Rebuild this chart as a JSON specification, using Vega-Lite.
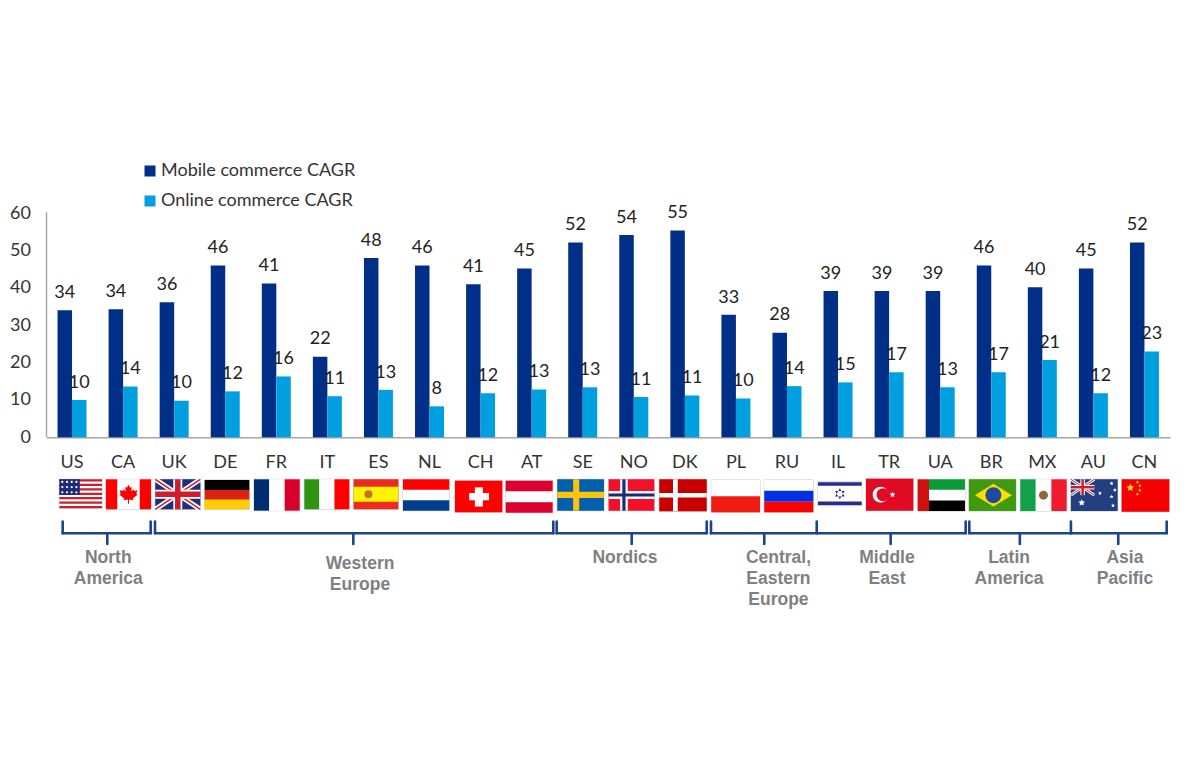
{"$schema":"https://vega.github.io/schema/vega-lite/v6.json","width":1123.5,"height":764,"autosize":"none","padding":{"left":46.5,"right":15,"top":0,"bottom":0},"background":"white","config":{"view":{"stroke":null},"font":"Lato"},
"datasets":{
"bars":[
{"country":"US","series":"Mobile commerce CAGR","value":34},{"country":"US","series":"Online commerce CAGR","value":10},
{"country":"CA","series":"Mobile commerce CAGR","value":34.3},{"country":"CA","series":"Online commerce CAGR","value":13.6},
{"country":"UK","series":"Mobile commerce CAGR","value":36.2},{"country":"UK","series":"Online commerce CAGR","value":9.8},
{"country":"DE","series":"Mobile commerce CAGR","value":46},{"country":"DE","series":"Online commerce CAGR","value":12.3},
{"country":"FR","series":"Mobile commerce CAGR","value":41.2},{"country":"FR","series":"Online commerce CAGR","value":16.3},
{"country":"IT","series":"Mobile commerce CAGR","value":21.6},{"country":"IT","series":"Online commerce CAGR","value":11},
{"country":"ES","series":"Mobile commerce CAGR","value":48},{"country":"ES","series":"Online commerce CAGR","value":12.7},
{"country":"NL","series":"Mobile commerce CAGR","value":46},{"country":"NL","series":"Online commerce CAGR","value":8.3},
{"country":"CH","series":"Mobile commerce CAGR","value":41},{"country":"CH","series":"Online commerce CAGR","value":11.8},
{"country":"AT","series":"Mobile commerce CAGR","value":45.2},{"country":"AT","series":"Online commerce CAGR","value":12.8},
{"country":"SE","series":"Mobile commerce CAGR","value":52.2},{"country":"SE","series":"Online commerce CAGR","value":13.4},
{"country":"NO","series":"Mobile commerce CAGR","value":54.2},{"country":"NO","series":"Online commerce CAGR","value":10.8},
{"country":"DK","series":"Mobile commerce CAGR","value":55.4},{"country":"DK","series":"Online commerce CAGR","value":11.2},
{"country":"PL","series":"Mobile commerce CAGR","value":32.8},{"country":"PL","series":"Online commerce CAGR","value":10.4},
{"country":"RU","series":"Mobile commerce CAGR","value":28},{"country":"RU","series":"Online commerce CAGR","value":13.7},
{"country":"IL","series":"Mobile commerce CAGR","value":39.2},{"country":"IL","series":"Online commerce CAGR","value":14.7},
{"country":"TR","series":"Mobile commerce CAGR","value":39.2},{"country":"TR","series":"Online commerce CAGR","value":17.4},
{"country":"UA","series":"Mobile commerce CAGR","value":39.2},{"country":"UA","series":"Online commerce CAGR","value":13.4},
{"country":"BR","series":"Mobile commerce CAGR","value":46},{"country":"BR","series":"Online commerce CAGR","value":17.4},
{"country":"MX","series":"Mobile commerce CAGR","value":40.2},{"country":"MX","series":"Online commerce CAGR","value":20.7},
{"country":"AU","series":"Mobile commerce CAGR","value":45.2},{"country":"AU","series":"Online commerce CAGR","value":11.8},
{"country":"CN","series":"Mobile commerce CAGR","value":52.2},{"country":"CN","series":"Online commerce CAGR","value":23}],
"boxes":[
{"f":"US","l":0.251,"r":1.087,"t":-11.25,"b":-19.02},{"f":"CA","l":1.165,"r":2.046,"t":-11.25,"b":-19.29},{"f":"UK","l":2.13,"r":3.012,"t":-11.25,"b":-19.29},{"f":"DE","l":3.098,"r":3.971,"t":-11.44,"b":-19.29},{"f":"FR","l":4.063,"r":4.958,"t":-11.25,"b":-19.66},{"f":"IT","l":5.048,"r":5.929,"t":-11.25,"b":-19.29},{"f":"ES","l":6.015,"r":6.889,"t":-11.25,"b":-19.29},{"f":"NL","l":6.981,"r":7.887,"t":-11.25,"b":-19.66},{"f":"CH","l":7.999,"r":8.925,"t":-11.63,"b":-20.09},{"f":"AT","l":8.992,"r":9.912,"t":-11.63,"b":-20.2},{"f":"SE","l":10.002,"r":10.916,"t":-11.25,"b":-19.66},{"f":"NO","l":11.008,"r":11.901,"t":-11.25,"b":-19.66},{"f":"DK","l":11.999,"r":12.928,"t":-11.25,"b":-19.82},{"f":"PL","l":13.017,"r":13.971,"t":-11.44,"b":-20.09},{"f":"RU","l":14.055,"r":15.015,"t":-11.44,"b":-20.09},{"f":"IL","l":15.107,"r":15.963,"t":-11.89,"b":-18.32},{"f":"TR","l":16.047,"r":16.973,"t":-11.09,"b":-19.66},{"f":"UA","l":17.059,"r":17.985,"t":-11.25,"b":-19.74},{"f":"BR","l":18.063,"r":18.984,"t":-11.25,"b":-19.74},{"f":"MX","l":19.068,"r":19.977,"t":-11.25,"b":-19.74},{"f":"AU","l":20.06,"r":20.975,"t":-11.25,"b":-19.74},{"f":"CN","l":21.054,"r":21.986,"t":-11.25,"b":-19.93}],
"parts":[
{"k":"r","f":"US","u0":0,"u1":1,"v0":0,"v1":1,"tone":"white"},
{"k":"r","f":"US","u0":0,"u1":1,"v0":0,"v1":0.077,"tone":"usRed"},{"k":"r","f":"US","u0":0,"u1":1,"v0":0.154,"v1":0.231,"tone":"usRed"},{"k":"r","f":"US","u0":0,"u1":1,"v0":0.308,"v1":0.385,"tone":"usRed"},{"k":"r","f":"US","u0":0,"u1":1,"v0":0.462,"v1":0.538,"tone":"usRed"},{"k":"r","f":"US","u0":0,"u1":1,"v0":0.615,"v1":0.692,"tone":"usRed"},{"k":"r","f":"US","u0":0,"u1":1,"v0":0.769,"v1":0.846,"tone":"usRed"},{"k":"r","f":"US","u0":0,"u1":1,"v0":0.923,"v1":1,"tone":"usRed"},
{"k":"r","f":"US","u0":0,"u1":0.48,"v0":0,"v1":0.54,"tone":"usNavy"},
{"k":"r","f":"CA","u0":0,"u1":1,"v0":0,"v1":1,"tone":"white"},{"k":"r","f":"CA","u0":0,"u1":0.25,"v0":0,"v1":1,"tone":"red"},{"k":"r","f":"CA","u0":0.75,"u1":1,"v0":0,"v1":1,"tone":"red"},
{"k":"r","f":"UK","u0":0,"u1":1,"v0":0,"v1":1,"tone":"ukNavy"},
{"k":"r","f":"DE","u0":0,"u1":1,"v0":0,"v1":0.34,"tone":"black"},{"k":"r","f":"DE","u0":0,"u1":1,"v0":0.34,"v1":0.67,"tone":"deRed"},{"k":"r","f":"DE","u0":0,"u1":1,"v0":0.67,"v1":1,"tone":"deGold"},
{"k":"r","f":"FR","u0":0,"u1":1,"v0":0,"v1":1,"tone":"white"},{"k":"r","f":"FR","u0":0,"u1":0.33,"v0":0,"v1":1,"tone":"frNavy"},{"k":"r","f":"FR","u0":0.67,"u1":1,"v0":0,"v1":1,"tone":"frRed"},
{"k":"r","f":"IT","u0":0,"u1":1,"v0":0,"v1":1,"tone":"white"},{"k":"r","f":"IT","u0":0,"u1":0.33,"v0":0,"v1":1,"tone":"itGreen"},{"k":"r","f":"IT","u0":0.67,"u1":1,"v0":0,"v1":1,"tone":"red"},
{"k":"r","f":"ES","u0":0,"u1":1,"v0":0,"v1":1,"tone":"esRed"},{"k":"r","f":"ES","u0":0,"u1":1,"v0":0.25,"v1":0.75,"tone":"esYellow"},
{"k":"r","f":"NL","u0":0,"u1":1,"v0":0,"v1":1,"tone":"white"},{"k":"r","f":"NL","u0":0,"u1":1,"v0":0,"v1":0.33,"tone":"red"},{"k":"r","f":"NL","u0":0,"u1":1,"v0":0.67,"v1":1,"tone":"nlBlue"},
{"k":"r","f":"CH","u0":0,"u1":1,"v0":0,"v1":1,"tone":"red"},{"k":"r","f":"CH","u0":0.3,"u1":0.72,"v0":0.39,"v1":0.62,"tone":"white"},{"k":"r","f":"CH","u0":0.42,"u1":0.59,"v0":0.21,"v1":0.82,"tone":"white"},
{"k":"r","f":"AT","u0":0,"u1":1,"v0":0,"v1":1,"tone":"white"},{"k":"r","f":"AT","u0":0,"u1":1,"v0":0,"v1":0.33,"tone":"atRed"},{"k":"r","f":"AT","u0":0,"u1":1,"v0":0.67,"v1":1,"tone":"atRed"},
{"k":"r","f":"SE","u0":0,"u1":1,"v0":0,"v1":1,"tone":"seBlue"},{"k":"r","f":"SE","u0":0.34,"u1":0.47,"v0":0,"v1":1,"tone":"seYellow"},{"k":"r","f":"SE","u0":0,"u1":1,"v0":0.4,"v1":0.6,"tone":"seYellow"},
{"k":"r","f":"NO","u0":0,"u1":1,"v0":0,"v1":1,"tone":"noRed"},{"k":"r","f":"NO","u0":0.25,"u1":0.42,"v0":0,"v1":1,"tone":"white"},{"k":"r","f":"NO","u0":0,"u1":1,"v0":0.37,"v1":0.63,"tone":"white"},{"k":"r","f":"NO","u0":0.3,"u1":0.37,"v0":0,"v1":1,"tone":"noNavy"},{"k":"r","f":"NO","u0":0,"u1":1,"v0":0.45,"v1":0.55,"tone":"noNavy"},
{"k":"r","f":"DK","u0":0,"u1":1,"v0":0,"v1":1,"tone":"dkRed"},{"k":"r","f":"DK","u0":0.29,"u1":0.39,"v0":0,"v1":1,"tone":"white"},{"k":"r","f":"DK","u0":0,"u1":1,"v0":0.43,"v1":0.57,"tone":"white"},
{"k":"r","f":"PL","u0":0,"u1":1,"v0":0,"v1":0.5,"tone":"white"},{"k":"r","f":"PL","u0":0,"u1":1,"v0":0.5,"v1":1,"tone":"plRed"},
{"k":"r","f":"RU","u0":0,"u1":1,"v0":0,"v1":0.33,"tone":"white"},{"k":"r","f":"RU","u0":0,"u1":1,"v0":0.33,"v1":0.67,"tone":"ruBlue"},{"k":"r","f":"RU","u0":0,"u1":1,"v0":0.67,"v1":1,"tone":"red"},
{"k":"r","f":"IL","u0":0,"u1":1,"v0":0,"v1":1,"tone":"white"},{"k":"r","f":"IL","u0":0,"u1":1,"v0":0.02,"v1":0.17,"tone":"ilNavy"},{"k":"r","f":"IL","u0":0,"u1":1,"v0":0.83,"v1":0.98,"tone":"ilNavy"},
{"k":"r","f":"TR","u0":0,"u1":1,"v0":0,"v1":1,"tone":"trRed"},
{"k":"r","f":"UA","u0":0,"u1":1,"v0":0,"v1":1,"tone":"white"},{"k":"r","f":"UA","u0":0.24,"u1":1,"v0":0,"v1":0.33,"tone":"aeGreen"},{"k":"r","f":"UA","u0":0.24,"u1":1,"v0":0.67,"v1":1,"tone":"black"},{"k":"r","f":"UA","u0":0,"u1":0.24,"v0":0,"v1":1,"tone":"aeRed"},
{"k":"r","f":"BR","u0":0,"u1":1,"v0":0,"v1":1,"tone":"brGreen"},
{"k":"r","f":"MX","u0":0,"u1":1,"v0":0,"v1":1,"tone":"white"},{"k":"r","f":"MX","u0":0,"u1":0.33,"v0":0,"v1":1,"tone":"mxGreen"},{"k":"r","f":"MX","u0":0.67,"u1":1,"v0":0,"v1":1,"tone":"mxRed"},
{"k":"r","f":"AU","u0":0,"u1":1,"v0":0,"v1":1,"tone":"auNavy"},
{"k":"r","f":"CN","u0":0,"u1":1,"v0":0,"v1":1,"tone":"cnRed"},
{"k":"l","f":"UK","u0":0,"v0":0,"u1":1,"v1":1,"tone":"white","w":5},{"k":"l","f":"UK","u0":0,"v0":1,"u1":1,"v1":0,"tone":"white","w":5},{"k":"l","f":"UK","u0":0,"v0":0,"u1":1,"v1":1,"tone":"ukRed","w":1.5},{"k":"l","f":"UK","u0":0,"v0":1,"u1":1,"v1":0,"tone":"ukRed","w":1.5},{"k":"l","f":"UK","u0":0,"v0":0.5,"u1":1,"v1":0.5,"tone":"white","w":9},{"k":"l","f":"UK","u0":0.5,"v0":0,"u1":0.5,"v1":1,"tone":"white","w":9},{"k":"l","f":"UK","u0":0,"v0":0.5,"u1":1,"v1":0.5,"tone":"ukRed","w":5.5},{"k":"l","f":"UK","u0":0.5,"v0":0,"u1":0.5,"v1":1,"tone":"ukRed","w":5.5},
{"k":"l","f":"AU","u0":0,"v0":0,"u1":0.5,"v1":0.5,"tone":"white","w":3},{"k":"l","f":"AU","u0":0,"v0":0.5,"u1":0.5,"v1":0,"tone":"white","w":3},{"k":"l","f":"AU","u0":0,"v0":0,"u1":0.5,"v1":0.5,"tone":"ukRed","w":1},{"k":"l","f":"AU","u0":0,"v0":0.5,"u1":0.5,"v1":0,"tone":"ukRed","w":1},{"k":"l","f":"AU","u0":0,"v0":0.25,"u1":0.5,"v1":0.25,"tone":"white","w":4.5},{"k":"l","f":"AU","u0":0.25,"v0":0,"u1":0.25,"v1":0.5,"tone":"white","w":4.5},{"k":"l","f":"AU","u0":0,"v0":0.25,"u1":0.5,"v1":0.25,"tone":"ukRed","w":2.5},{"k":"l","f":"AU","u0":0.25,"v0":0,"u1":0.25,"v1":0.5,"tone":"ukRed","w":2.5},
{"k":"p","f":"US","u0":0.07,"v0":0.09,"s":"circle","z":5,"tone":"white"},{"k":"p","f":"US","u0":0.18,"v0":0.09,"s":"circle","z":5,"tone":"white"},{"k":"p","f":"US","u0":0.29,"v0":0.09,"s":"circle","z":5,"tone":"white"},{"k":"p","f":"US","u0":0.4,"v0":0.09,"s":"circle","z":5,"tone":"white"},{"k":"p","f":"US","u0":0.07,"v0":0.27,"s":"circle","z":5,"tone":"white"},{"k":"p","f":"US","u0":0.18,"v0":0.27,"s":"circle","z":5,"tone":"white"},{"k":"p","f":"US","u0":0.29,"v0":0.27,"s":"circle","z":5,"tone":"white"},{"k":"p","f":"US","u0":0.4,"v0":0.27,"s":"circle","z":5,"tone":"white"},{"k":"p","f":"US","u0":0.07,"v0":0.45,"s":"circle","z":5,"tone":"white"},{"k":"p","f":"US","u0":0.18,"v0":0.45,"s":"circle","z":5,"tone":"white"},{"k":"p","f":"US","u0":0.29,"v0":0.45,"s":"circle","z":5,"tone":"white"},{"k":"p","f":"US","u0":0.4,"v0":0.45,"s":"circle","z":5,"tone":"white"},
{"k":"p","f":"CA","u0":0.5,"v0":0.5,"s":"leaf","z":361,"tone":"red"},
{"k":"p","f":"ES","u0":0.33,"v0":0.5,"s":"circle","z":64,"tone":"esEmblem"},
{"k":"p","f":"IL","u0":0.5,"v0":0.5,"s":"david","z":121,"tone":"ilNavy"},
{"k":"p","f":"TR","u0":0.31,"v0":0.5,"s":"circle","z":256,"tone":"white"},{"k":"p","f":"TR","u0":0.36,"v0":0.5,"s":"circle","z":169,"tone":"trRed"},{"k":"p","f":"TR","u0":0.56,"v0":0.5,"s":"star","z":36,"tone":"white"},
{"k":"p","f":"BR","u0":0.52,"v0":0.5,"s":"wide","z":1369,"tone":"brYellow"},{"k":"p","f":"BR","u0":0.52,"v0":0.5,"s":"circle","z":256,"tone":"brBlue"},
{"k":"p","f":"MX","u0":0.5,"v0":0.5,"s":"circle","z":81,"tone":"mxEmblem"},
{"k":"p","f":"AU","u0":0.23,"v0":0.74,"s":"star","z":49,"tone":"white"},{"k":"p","f":"AU","u0":0.62,"v0":0.44,"s":"star","z":16,"tone":"white"},{"k":"p","f":"AU","u0":0.87,"v0":0.55,"s":"star","z":16,"tone":"white"},{"k":"p","f":"AU","u0":0.94,"v0":0.34,"s":"star","z":16,"tone":"white"},{"k":"p","f":"AU","u0":0.87,"v0":0.13,"s":"star","z":16,"tone":"white"},{"k":"p","f":"AU","u0":0.9,"v0":0.83,"s":"star","z":16,"tone":"white"},
{"k":"p","f":"CN","u0":0.18,"v0":0.26,"s":"star","z":64,"tone":"cnYellow"},{"k":"p","f":"CN","u0":0.33,"v0":0.09,"s":"star","z":12,"tone":"cnYellow"},{"k":"p","f":"CN","u0":0.38,"v0":0.2,"s":"star","z":12,"tone":"cnYellow"},{"k":"p","f":"CN","u0":0.38,"v0":0.34,"s":"star","z":12,"tone":"cnYellow"},{"k":"p","f":"CN","u0":0.33,"v0":0.46,"s":"star","z":12,"tone":"cnYellow"}],
"brackets":[
{"s0":0.317,"s1":2.04,"y0":-25.72,"y1":-25.72},{"s0":0.317,"s1":0.317,"y0":-22.6,"y1":-25.72},{"s0":2.04,"s1":2.04,"y0":-22.6,"y1":-25.72},{"s0":1.19,"s1":1.19,"y0":-25.72,"y1":-28.58},
{"s0":2.125,"s1":9.924,"y0":-25.72,"y1":-25.72},{"s0":2.125,"s1":2.125,"y0":-22.6,"y1":-25.72},{"s0":9.924,"s1":9.924,"y0":-22.6,"y1":-25.72},{"s0":6.008,"s1":6.008,"y0":-25.72,"y1":-28.58},
{"s0":9.99,"s1":12.928,"y0":-25.72,"y1":-25.72},{"s0":9.99,"s1":9.99,"y0":-22.6,"y1":-25.72},{"s0":12.928,"s1":12.928,"y0":-22.6,"y1":-25.72},{"s0":11.459,"s1":11.459,"y0":-25.72,"y1":-28.58},
{"s0":13.012,"s1":15.082,"y0":-25.72,"y1":-25.72},{"s0":13.012,"s1":13.012,"y0":-22.6,"y1":-25.72},{"s0":15.082,"s1":15.082,"y0":-22.6,"y1":-25.72},{"s0":14.055,"s1":14.055,"y0":-25.72,"y1":-28.58},
{"s0":15.082,"s1":17.999,"y0":-25.72,"y1":-25.72},{"s0":17.999,"s1":17.999,"y0":-22.6,"y1":-25.72},{"s0":16.53,"s1":16.53,"y0":-25.72,"y1":-28.58},
{"s0":18.07,"s1":20.06,"y0":-25.72,"y1":-25.72},{"s0":18.07,"s1":18.07,"y0":-22.6,"y1":-25.72},{"s0":20.06,"s1":20.06,"y0":-22.6,"y1":-25.72},{"s0":19.06,"s1":19.06,"y0":-25.72,"y1":-28.58},
{"s0":20.06,"s1":21.935,"y0":-25.72,"y1":-25.72},{"s0":21.935,"s1":21.935,"y0":-22.6,"y1":-25.72},{"s0":20.987,"s1":20.987,"y0":-25.72,"y1":-28.58}],
"regions":[
{"name":"North|America","s":1.21,"y":-33.67},{"name":"Western|Europe","s":6.139,"y":-35.28},{"name":"Nordics","s":11.328,"y":-33.67},{"name":"Central,|Eastern|Europe","s":14.333,"y":-33.67},{"name":"Middle|East","s":16.458,"y":-33.67},{"name":"Latin|America","s":18.848,"y":-33.67},{"name":"Asia|Pacific","s":21.118,"y":-33.67}],
"yaxis":[{"s":0,"y0":0,"y1":60.3}]
},
"layer":[
{"data":{"name":"bars"},
"encoding":{"x":{"field":"country","type":"nominal","sort":null,"scale":{"paddingInner":0.432,"paddingOuter":0.216},"axis":{"title":null,"labelAngle":0,"labelFontSize":18,"labelColor":"#333333","labelPadding":16,"ticks":false,"domainColor":"#A6A6A6","domainWidth":1.5,"offset":-326.7,"grid":false}},
"xOffset":{"field":"series","type":"nominal","sort":null},
"y":{"field":"value","type":"quantitative","scale":{"domain":[-87.52,117.14],"nice":false,"zero":false},"axis":{"title":null,"values":[0,10,20,30,40,50,60],"grid":false,"domain":false,"ticks":false,"labelFontSize":18,"labelColor":"#333333","labelPadding":16}}},
"layer":[
{"mark":{"type":"bar"},"encoding":{"color":{"field":"series","type":"nominal","scale":{"domain":["Mobile commerce CAGR","Online commerce CAGR"],"range":["#002F87","#009FE0"]},"legend":{"title":null,"orient":"none","legendX":94.5,"legendY":162,"symbolType":"square","symbolSize":121,"symbolStrokeWidth":0,"labelFontSize":18,"labelColor":"#333333","labelLimit":300,"rowPadding":12,"labelOffset":2,"symbolOpacity":1}}}},
{"mark":{"type":"text","baseline":"alphabetic","dy":-12.3,"fontSize":18,"color":"#222222"},"encoding":{"text":{"field":"value","type":"quantitative","format":".0f"}}}
]},
{"data":{"name":"boxes"},"mark":{"type":"rect","fill":"white","stroke":"#C8C8C8","strokeWidth":1},"encoding":{"x":{"field":"l","type":"quantitative","scale":{"domain":[0,22],"nice":false,"zero":false},"axis":null},"x2":{"field":"r"},"y":{"field":"t","type":"quantitative","scale":{"domain":[-87.52,117.14],"nice":false,"zero":false}},"y2":{"field":"b"}}},
{"data":{"name":"parts"},
"transform":[
{"lookup":"f","from":{"data":{"name":"boxes"},"key":"f","fields":["l","r","t","b"]}},
{"calculate":"datum.l+datum.u0*(datum.r-datum.l)","as":"px0"},
{"calculate":"datum.l+datum.u1*(datum.r-datum.l)","as":"px1"},
{"calculate":"datum.t+datum.v0*(datum.b-datum.t)","as":"py0"},
{"calculate":"datum.t+datum.v1*(datum.b-datum.t)","as":"py1"}],
"encoding":{
"x":{"field":"px0","type":"quantitative","scale":{"domain":[0,22],"nice":false,"zero":false},"axis":null},
"y":{"field":"py0","type":"quantitative","scale":{"domain":[-87.52,117.14],"nice":false,"zero":false}},
"color":{"field":"tone","type":"nominal","legend":null,"scale":{"domain":["white","black","red","usRed","usNavy","ukNavy","ukRed","deRed","deGold","frNavy","frRed","itGreen","esRed","esYellow","esEmblem","nlBlue","atRed","seBlue","seYellow","noRed","noNavy","dkRed","plRed","ruBlue","ilNavy","trRed","aeGreen","aeRed","brGreen","brYellow","brBlue","mxGreen","mxRed","mxEmblem","auNavy","cnRed","cnYellow"],"range":["#FFFFFF","#000000","#FF0000","#C8202E","#1D2A78","#1F2F7A","#CF1B2B","#DD2211","#FFCC00","#002D72","#D8002A","#2E9412","#EE2A1E","#FFF500","#C8702A","#003E8F","#DC0030","#0060AB","#FFC20E","#F5102A","#1D2A78","#C80000","#F01A10","#0030E0","#2A2A8C","#E00A22","#0A9A3A","#D01010","#3F9A10","#FFDD00","#1F4AA0","#12A14A","#EE1C2E","#8A6A3A","#22407F","#F50000","#FFD800"]}}},
"layer":[
{"transform":[{"filter":"datum.k==='r'"}],"mark":{"type":"rect"},"encoding":{"x2":{"field":"px1"},"y2":{"field":"py1"}}},
{"transform":[{"filter":"datum.k==='l'"}],"mark":{"type":"rule"},"encoding":{"x2":{"field":"px1"},"y2":{"field":"py1"},"strokeWidth":{"field":"w","type":"quantitative","scale":null}}},
{"transform":[{"filter":"datum.k==='p'"}],"mark":{"type":"point","filled":true,"opacity":1},"encoding":{"size":{"field":"z","type":"quantitative","scale":null},"shape":{"field":"s","type":"nominal","legend":null,"scale":{"domain":["circle","star","wide","david","leaf"],"range":["circle","M0,-1L.29,-.4L.95,-.31L.48,.15L.59,.81L0,.5L-.59,.81L-.48,.15L-.95,-.31L-.29,-.4Z","M-1,0L0,-.62L1,0L0,.62Z","M0,-1L.87,.5L-.87,.5ZM0,1L.87,-.5L-.87,-.5Z","M0,-1L.17,-.68L.35,-.78L.28,-.3L.5,-.52L.58,-.35L.95,-.42L.82,-.05L.95,.05L.45,.45L.52,.62L.05,.55L.05,1L-.05,1L-.05,.55L-.52,.62L-.45,.45L-.95,.05L-.82,-.05L-.95,-.42L-.58,-.35L-.5,-.52L-.28,-.3L-.35,-.78L-.17,-.68Z"]}}}}
]},
{"data":{"name":"brackets"},"mark":{"type":"rule","color":"#1C4391","strokeWidth":2.6,"strokeCap":"round"},"encoding":{"x":{"field":"s0","type":"quantitative","scale":{"domain":[0,22],"nice":false,"zero":false},"axis":null},"x2":{"field":"s1"},"y":{"field":"y0","type":"quantitative","scale":{"domain":[-87.52,117.14],"nice":false,"zero":false}},"y2":{"field":"y1"}}},
{"data":{"name":"regions"},"mark":{"type":"text","font":"Liberation Sans","fontWeight":"bold","fontSize":17.5,"color":"#808080","align":"center","baseline":"alphabetic","lineBreak":"|","lineHeight":21},"encoding":{"x":{"field":"s","type":"quantitative","scale":{"domain":[0,22],"nice":false,"zero":false},"axis":null},"y":{"field":"y","type":"quantitative","scale":{"domain":[-87.52,117.14],"nice":false,"zero":false}},"text":{"field":"name"}}},
{"data":{"name":"yaxis"},"mark":{"type":"rule","color":"#A6A6A6","strokeWidth":1.5},"encoding":{"x":{"field":"s","type":"quantitative","scale":{"domain":[0,22],"nice":false,"zero":false},"axis":null},"y":{"field":"y0","type":"quantitative","scale":{"domain":[-87.52,117.14],"nice":false,"zero":false}},"y2":{"field":"y1"}}}
],
"resolve":{"scale":{"x":"independent","color":"independent"},"axis":{"x":"independent"}}
}
